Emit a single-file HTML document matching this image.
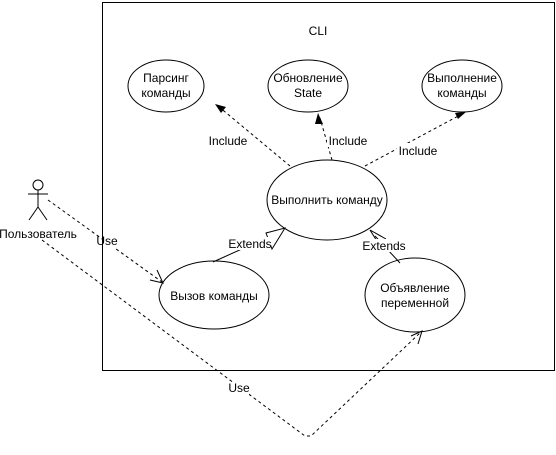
<!DOCTYPE html>
<html><head><meta charset="utf-8"><style>
html,body{margin:0;padding:0;background:#fff;}
svg{display:block;}
text{font-family:"Liberation Sans","DejaVu Sans",sans-serif;font-size:12px;fill:#000;}
</style></head><body>
<svg width="556" height="455" viewBox="0 0 556 455" xmlns="http://www.w3.org/2000/svg">
<rect x="102.5" y="2.5" width="452" height="368" fill="none" stroke="#000"/>
<text x="318" y="35" text-anchor="middle">CLI</text>
<g fill="#fff" stroke="#000">
<ellipse cx="166" cy="86" rx="38" ry="26"/>
<ellipse cx="308" cy="86" rx="40" ry="26"/>
<ellipse cx="462" cy="86" rx="40" ry="26"/>
<ellipse cx="327" cy="200" rx="60" ry="40"/>
<ellipse cx="214" cy="295" rx="55" ry="34"/>
<ellipse cx="415" cy="295" rx="50" ry="37"/>
</g>
<g text-anchor="middle">
<text x="166" y="82">Парсинг</text><text x="166" y="97">команды</text>
<text x="308" y="82">Обновление</text><text x="308" y="97">State</text>
<text x="462" y="82">Выполнение</text><text x="462" y="97">команды</text>
<text x="327" y="204">Выполнить команду</text>
<text x="214" y="300">Вызов команды</text>
<text x="415" y="292">Объявление</text><text x="415" y="307">переменной</text>
</g>
<!-- actor -->
<g stroke="#000" fill="none">
<circle cx="38" cy="185" r="5" fill="#fff"/>
<line x1="38" y1="190" x2="38" y2="207"/>
<line x1="28" y1="194" x2="48" y2="194"/>
<line x1="38" y1="207" x2="29" y2="220"/>
<line x1="38" y1="207" x2="47" y2="220"/>
</g>
<text x="38" y="238" text-anchor="middle">Пользователь</text>
<!-- use lines -->
<g stroke="#000" fill="none" stroke-dasharray="3,3">
<line x1="48" y1="200" x2="162" y2="282"/>
<polyline points="42,240 305,436 311,436 421,332"/>
<line x1="290" y1="166" x2="218" y2="106"/>
<line x1="332" y1="160" x2="320" y2="118"/>
<line x1="365" y1="166" x2="462" y2="114"/>
</g>
<g stroke="#000" fill="none">
<polyline points="150,280 163,283 157,270"/>
<polyline points="411,336 422,331 418,344"/>
</g>
<g fill="#000">
<polygon points="215,104 226,107 221,113"/>
<polygon points="318,113 323,124 315,124"/>
<polygon points="466,112 458,119 455,113"/>
</g>
<!-- extends -->
<g stroke="#000" fill="none">
<line x1="213" y1="262" x2="275" y2="234"/>
<polygon points="285,228 272,249 266,233" fill="#fff"/>
<line x1="400" y1="263" x2="375" y2="236"/>
<polyline points="380,246 370,230 386,239"/>
</g>
<g text-anchor="middle" font-size="11">
<rect x="103" y="234" width="17" height="14" fill="#fff"/>
<text x="107" y="245">Use</text>
<rect x="229" y="382" width="20" height="13" fill="#fff"/>
<text x="239" y="392">Use</text>
<rect x="227" y="237" width="44" height="13" fill="#fff"/>
<text x="250" y="248">Extends</text>
<rect x="362" y="239" width="44" height="13" fill="#fff"/>
<text x="384" y="250">Extends</text>
<rect x="206" y="133" width="44" height="14" fill="#fff"/>
<text x="228" y="145">Include</text>
<rect x="327" y="133" width="42" height="14" fill="#fff"/>
<text x="348" y="145">Include</text>
<rect x="397" y="143" width="42" height="14" fill="#fff"/>
<text x="418" y="155">Include</text>
</g>
</svg>
</body></html>
